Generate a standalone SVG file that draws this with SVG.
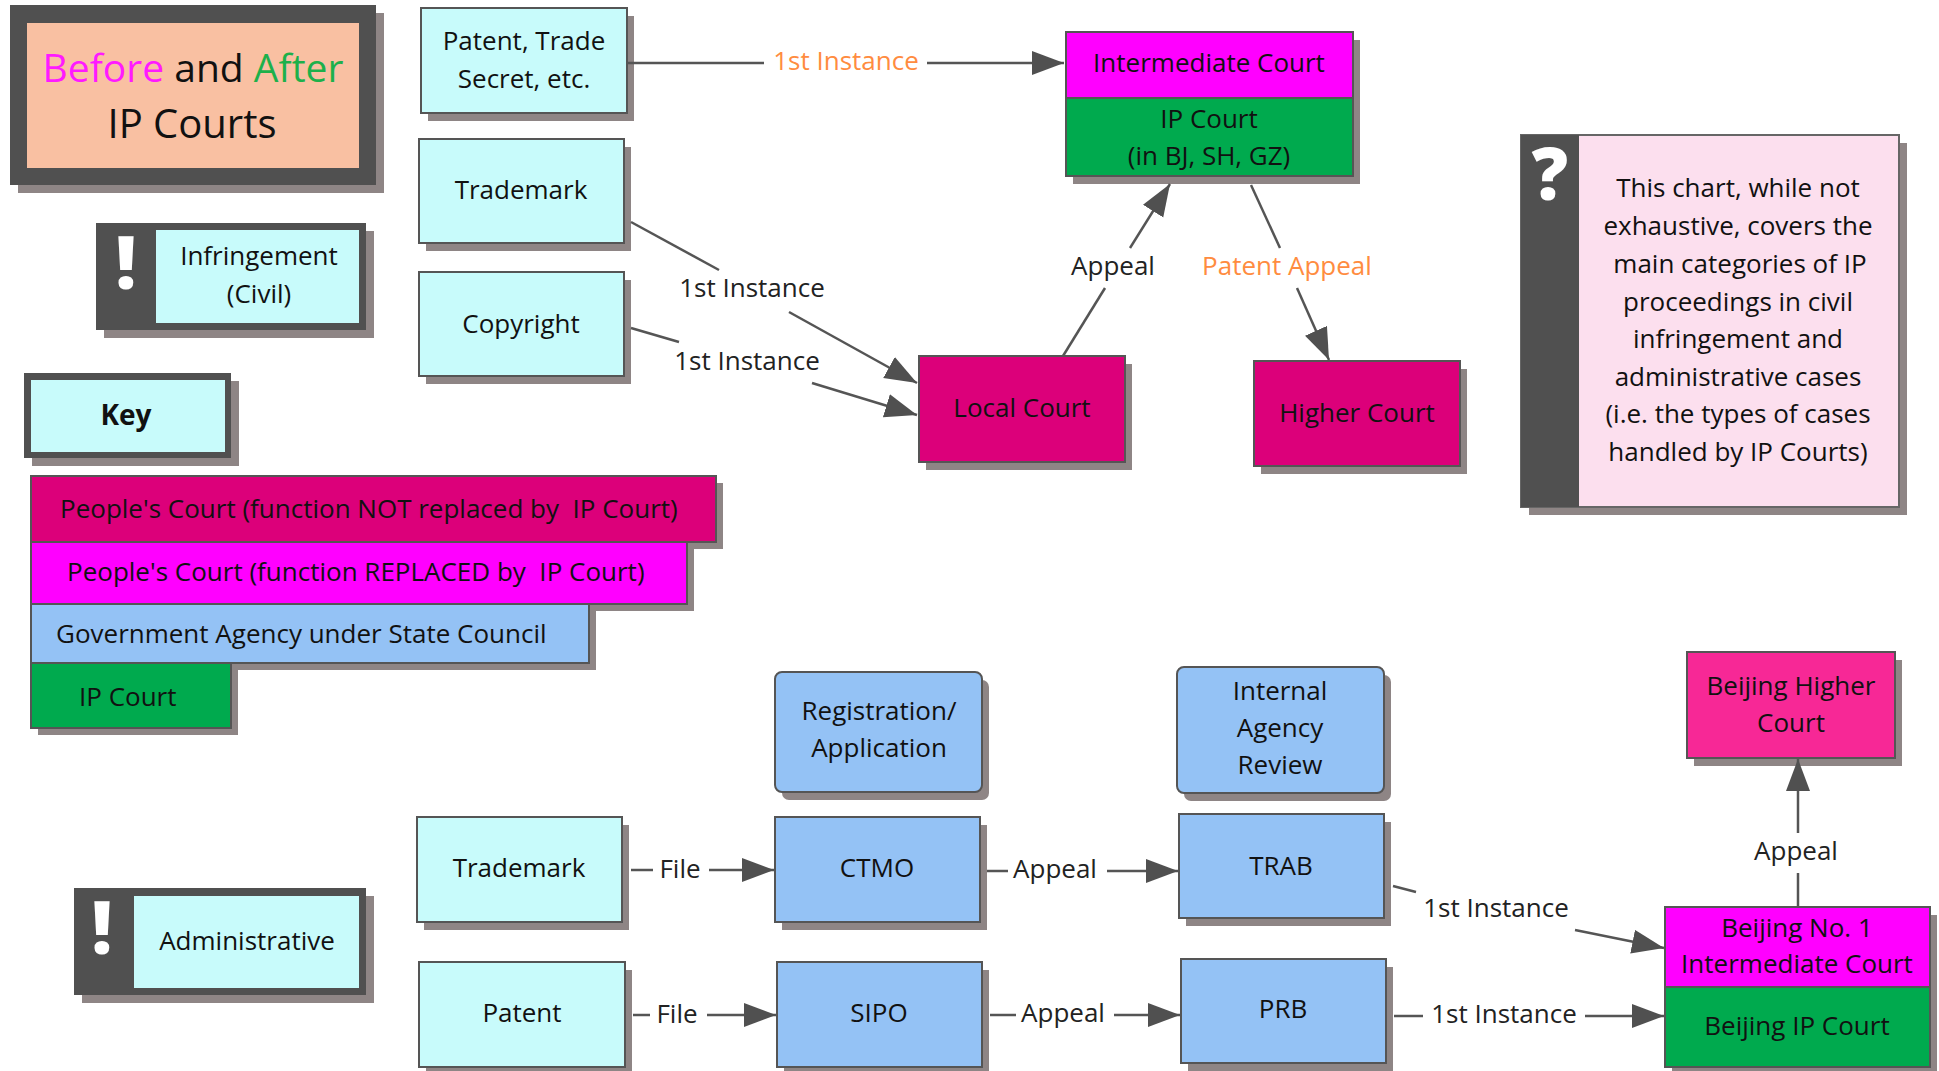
<svg xmlns="http://www.w3.org/2000/svg" width="1939" height="1071" viewBox="0 0 1939 1071">
<defs>
<style>
text{font-family:"Open Sans","Noto Sans","Liberation Sans",sans-serif;fill:#111;}
.t{font-size:26px;text-anchor:middle;}
.lg{font-size:26px;}
.nt{font-size:26px;text-anchor:middle;}
.lbl{font-size:26px;text-anchor:middle;fill:#222;}
.or{fill:#FF8C3F;}
.sh{fill:#8E8585;}
.bd{stroke:#555;stroke-width:2;}
.cy{fill:#C8FBFB;}
.bl{fill:#94C2F5;}
.cr{fill:#DC007A;}
.mg{fill:#FF00FF;}
.gr{fill:#00AA4E;}
.hp{fill:#F72896;}
.dk{fill:#505050;}
.ic{font-size:72px;font-weight:800;fill:#fff;text-anchor:middle;}
.cn{stroke:#555;stroke-width:2.5;fill:none;}
</style>
<marker id="ah" markerUnits="userSpaceOnUse" markerWidth="34" markerHeight="26" refX="32" refY="12" orient="auto">
<path d="M0,0 L32,12 L0,24 z" fill="#505050"/>
</marker>
</defs>
<rect width="1939" height="1071" fill="#fff"/>

<g id="title">
<rect class="sh" x="18" y="13" width="366" height="180"/>
<rect class="dk" x="10" y="5" width="366" height="180"/>
<rect x="27" y="23" width="332" height="145" fill="#F9C0A2"/>
<text x="193" y="82" style="font-size:39px;text-anchor:middle"><tspan fill="#FF1AFF">Before</tspan> and <tspan fill="#1DB04B">After</tspan></text>
<text x="192" y="138" style="font-size:40px;text-anchor:middle">IP Courts</text>
</g>

<g id="infringement">
<rect class="sh" x="104" y="231" width="270" height="107"/>
<rect class="dk" x="96" y="223" width="270" height="107"/>
<rect class="cy" x="156" y="230" width="203" height="93"/>
<text class="ic" x="126" y="289">!</text>
<text class="t" x="259" y="265">Infringement</text>
<text class="t" x="259" y="303">(Civil)</text>
</g>

<g id="key">
<rect class="sh" x="32" y="381" width="207" height="85"/>
<rect class="dk" x="24" y="373" width="207" height="85"/>
<rect class="cy" x="31" y="380" width="194" height="72"/>
<text x="126" y="425" style="font-size:28px;font-weight:bold;text-anchor:middle">Key</text>
</g>

<g id="legend">
<rect class="sh" x="38" y="483" width="685" height="66"/>
<rect class="cr bd" x="31" y="476" width="685" height="66"/>
<text class="lg" x="60" y="518" xml:space="preserve">People's Court (function NOT replaced by  IP Court)</text>
<rect class="sh" x="38" y="549" width="656" height="62"/>
<rect class="mg bd" x="31" y="542" width="656" height="62"/>
<text class="lg" x="67" y="581" xml:space="preserve">People's Court (function REPLACED by  IP Court)</text>
<rect class="sh" x="38" y="611" width="558" height="59"/>
<rect class="bl bd" x="31" y="604" width="558" height="59"/>
<text class="lg" x="56" y="643">Government Agency under State Council</text>
<rect class="sh" x="38" y="670" width="200" height="65"/>
<rect class="gr bd" x="31" y="663" width="200" height="65"/>
<text class="lg" x="79" y="706">IP Court</text>
</g>

<g id="patent-trade-secret">
<rect class="sh" x="428" y="16" width="206" height="105"/>
<rect class="cy bd" x="421" y="8" width="206" height="105"/>
<text class="t" x="524" y="50">Patent, Trade</text>
<text class="t" x="524" y="88">Secret, etc.</text>
</g>

<g id="trademark-civil">
<rect class="sh" x="426" y="147" width="205" height="104"/>
<rect class="cy bd" x="419" y="139" width="205" height="104"/>
<text class="t" x="521" y="199">Trademark</text>
</g>

<g id="copyright">
<rect class="sh" x="426" y="280" width="205" height="104"/>
<rect class="cy bd" x="419" y="272" width="205" height="104"/>
<text class="t" x="521" y="333">Copyright</text>
</g>

<g id="intermediate-court">
<rect class="sh" x="1073" y="40" width="287" height="144"/>
<rect class="mg bd" x="1066" y="32" width="287" height="66"/>
<rect class="gr bd" x="1066" y="98" width="287" height="78"/>
<text class="t" x="1209" y="72">Intermediate Court</text>
<text class="t" x="1209" y="128">IP Court</text>
<text class="t" x="1209" y="165">(in BJ, SH, GZ)</text>
</g>

<g id="local-court">
<rect class="sh" x="926" y="364" width="206" height="106"/>
<rect class="cr bd" x="919" y="356" width="206" height="106"/>
<text class="t" x="1022" y="417">Local Court</text>
</g>

<g id="higher-court">
<rect class="sh" x="1261" y="369" width="206" height="105"/>
<rect class="cr bd" x="1254" y="361" width="206" height="105"/>
<text class="t" x="1357" y="422">Higher Court</text>
</g>

<g id="note">
<rect class="sh" x="1529" y="143" width="378" height="372"/>
<rect x="1521" y="135" width="378" height="372" fill="#FCDFEE" stroke="#666" stroke-width="2"/>
<rect class="dk" x="1521" y="135" width="58" height="372"/>
<text class="ic" x="1550" y="200">?</text>
<text class="nt" x="1738" y="197">This chart, while not</text>
<text class="nt" x="1738" y="235">exhaustive, covers the</text>
<text class="nt" x="1740" y="273">main categories of IP</text>
<text class="nt" x="1738" y="311">proceedings in civil</text>
<text class="nt" x="1738" y="348">infringement and</text>
<text class="nt" x="1738" y="386">administrative cases</text>
<text class="nt" x="1738" y="423">(i.e. the types of cases</text>
<text class="nt" x="1738" y="461">handled by IP Courts)</text>
</g>

<g id="administrative">
<rect class="sh" x="82" y="896" width="292" height="107"/>
<rect class="dk" x="74" y="888" width="292" height="107"/>
<rect class="cy" x="134" y="896" width="225" height="92"/>
<text class="ic" x="102" y="954">!</text>
<text class="t" x="247" y="950">Administrative</text>
</g>

<g id="registration">
<rect class="sh" x="782" y="680" width="207" height="120" rx="7"/>
<rect class="bl bd" x="775" y="672" width="207" height="120" rx="7"/>
<text class="t" x="879" y="720">Registration/</text>
<text class="t" x="879" y="757">Application</text>
</g>

<g id="internal-review">
<rect class="sh" x="1184" y="675" width="207" height="126" rx="7"/>
<rect class="bl bd" x="1177" y="667" width="207" height="126" rx="7"/>
<text class="t" x="1280" y="700">Internal</text>
<text class="t" x="1280" y="737">Agency</text>
<text class="t" x="1280" y="774">Review</text>
</g>

<g id="trademark-admin">
<rect class="sh" x="424" y="825" width="205" height="105"/>
<rect class="cy bd" x="417" y="817" width="205" height="105"/>
<text class="t" x="519" y="877">Trademark</text>
</g>

<g id="patent-admin">
<rect class="sh" x="426" y="970" width="206" height="105"/>
<rect class="cy bd" x="419" y="962" width="206" height="105"/>
<text class="t" x="522" y="1022">Patent</text>
</g>

<g id="ctmo">
<rect class="sh" x="782" y="825" width="205" height="105"/>
<rect class="bl bd" x="775" y="817" width="205" height="105"/>
<text class="t" x="877" y="877">CTMO</text>
</g>

<g id="sipo">
<rect class="sh" x="784" y="970" width="205" height="105"/>
<rect class="bl bd" x="777" y="962" width="205" height="105"/>
<text class="t" x="879" y="1022">SIPO</text>
</g>

<g id="trab">
<rect class="sh" x="1186" y="822" width="205" height="104"/>
<rect class="bl bd" x="1179" y="814" width="205" height="104"/>
<text class="t" x="1281" y="875">TRAB</text>
</g>

<g id="prb">
<rect class="sh" x="1188" y="967" width="205" height="104"/>
<rect class="bl bd" x="1181" y="959" width="205" height="104"/>
<text class="t" x="1283" y="1018">PRB</text>
</g>

<g id="beijing-higher">
<rect class="sh" x="1694" y="660" width="208" height="106"/>
<rect class="hp bd" x="1687" y="652" width="208" height="106"/>
<text class="t" x="1791" y="695">Beijing Higher</text>
<text class="t" x="1791" y="732">Court</text>
</g>

<g id="beijing-no1">
<rect class="sh" x="1672" y="915" width="265" height="160"/>
<rect class="mg bd" x="1665" y="907" width="265" height="80"/>
<rect class="gr bd" x="1665" y="987" width="265" height="80"/>
<text class="t" x="1797" y="937">Beijing No. 1</text>
<text class="t" x="1797" y="973">Intermediate Court</text>
<text class="t" x="1797" y="1035">Beijing IP Court</text>
</g>

<g id="connectors">
<line class="cn" x1="627" y1="63" x2="764" y2="63"/>
<line class="cn" x1="927" y1="63" x2="1064" y2="63" marker-end="url(#ah)"/>
<text class="lbl or" x="846" y="70">1st Instance</text>

<line class="cn" x1="631" y1="222" x2="719" y2="270"/>
<line class="cn" x1="789" y1="312" x2="917" y2="383" marker-end="url(#ah)"/>
<text class="lbl" x="752" y="297">1st Instance</text>

<line class="cn" x1="631" y1="328" x2="679" y2="342"/>
<line class="cn" x1="812" y1="383" x2="917" y2="415" marker-end="url(#ah)"/>
<text class="lbl" x="747" y="370">1st Instance</text>

<line class="cn" x1="1063" y1="356" x2="1105" y2="288"/>
<line class="cn" x1="1130" y1="248" x2="1170" y2="184" marker-end="url(#ah)"/>
<text class="lbl" x="1113" y="275">Appeal</text>

<line class="cn" x1="1251" y1="185" x2="1280" y2="248"/>
<line class="cn" x1="1297" y1="288" x2="1329" y2="360" marker-end="url(#ah)"/>
<text class="lbl or" x="1287" y="275">Patent Appeal</text>

<line class="cn" x1="631" y1="870" x2="653" y2="870"/>
<line class="cn" x1="709" y1="870" x2="774" y2="870" marker-end="url(#ah)"/>
<text class="lbl" x="680" y="878">File</text>

<line class="cn" x1="633" y1="1015" x2="650" y2="1015"/>
<line class="cn" x1="707" y1="1015" x2="776" y2="1015" marker-end="url(#ah)"/>
<text class="lbl" x="677" y="1023">File</text>

<line class="cn" x1="987" y1="871" x2="1008" y2="871"/>
<line class="cn" x1="1107" y1="871" x2="1178" y2="871" marker-end="url(#ah)"/>
<text class="lbl" x="1055" y="878">Appeal</text>

<line class="cn" x1="990" y1="1015" x2="1016" y2="1015"/>
<line class="cn" x1="1114" y1="1015" x2="1180" y2="1015" marker-end="url(#ah)"/>
<text class="lbl" x="1063" y="1022">Appeal</text>

<line class="cn" x1="1393" y1="886" x2="1416" y2="892"/>
<line class="cn" x1="1575" y1="930" x2="1664" y2="948" marker-end="url(#ah)"/>
<text class="lbl" x="1496" y="917">1st Instance</text>

<line class="cn" x1="1394" y1="1016" x2="1423" y2="1016"/>
<line class="cn" x1="1585" y1="1016" x2="1664" y2="1016" marker-end="url(#ah)"/>
<text class="lbl" x="1504" y="1023">1st Instance</text>

<line class="cn" x1="1798" y1="907" x2="1798" y2="873"/>
<line class="cn" x1="1798" y1="833" x2="1798" y2="759" marker-end="url(#ah)"/>
<text class="lbl" x="1796" y="860">Appeal</text>
</g>
</svg>
